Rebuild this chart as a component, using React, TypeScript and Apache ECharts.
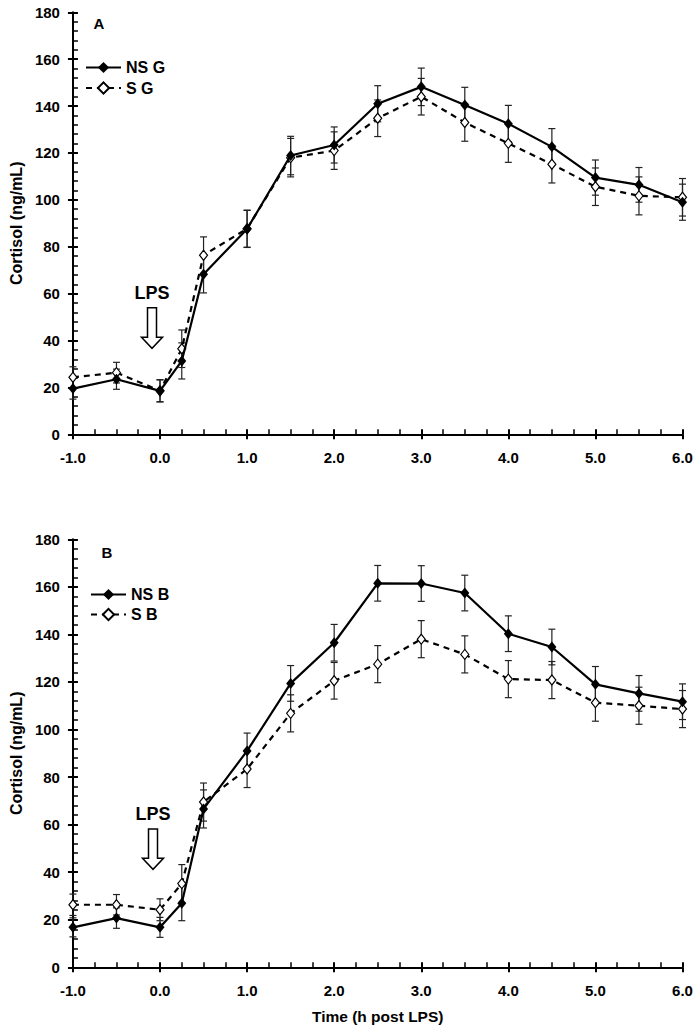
import React, { useEffect, useRef } from "react";
import * as echarts from "echarts";

const xs = [-1, -0.5, 0, 0.25, 0.5, 1, 1.5, 2, 2.5, 3, 3.5, 4, 4.5, 5, 5.5, 6];
const nsG = [19.5, 23.5, 18.5, 31.3, 68.3, 87.6, 118.9, 123.4, 141, 148.2, 140.5, 132.5, 122.6, 109.5, 106.4, 99];
const sG = [24.3, 26.3, 18.6, 36.5, 76.4, 87.7, 118, 121, 134.8, 144, 133, 124.1, 115.2, 105.6, 101.7, 101.1];
const nsB = [16.8, 20.7, 16.8, 26.9, 66.6, 91, 119.4, 136.5, 161.5, 161.4, 157.4, 140.3, 134.7, 119, 115.2, 111.7];
const sB = [26.3, 26.3, 24.2, 35.2, 69.5, 83.4, 106.8, 120.5, 127.5, 138, 131.6, 121.2, 120.8, 111.3, 110, 108.6];

const nsGErr = [4.5, 4.3, 4.7, 7.7, 8, 7.9, 8.2, 7.7, 7.7, 8, 7.5, 7.8, 7.8, 7.5, 7.4, 7.7];
const sGErr = [4.5, 4.4, 4.7, 8, 7.8, 7.9, 8.2, 8, 7.8, 7.8, 8, 8.1, 8, 8, 8.1, 8];
const nsBErr = [4, 4.3, 4.2, 7.3, 8, 7.5, 7.5, 7.7, 7.5, 7.5, 7.5, 7.5, 7.5, 7.5, 7.5, 7.5];
const sBErr = [4.5, 4.3, 4.6, 8, 8, 7.8, 7.8, 7.7, 7.8, 7.8, 7.8, 7.8, 7.8, 7.8, 7.8, 7.8];

const seriesNames = ["NS G", "S G", "NS B", "S B"];
const panelLabels = ["A", "B"];
const yTitle = "Cortisol (ng/mL)";
const xTitle = "Time (h post LPS)";

const FONT = "'Liberation Sans', Arial, sans-serif";

function pairs(vals: number[]) {
  return xs.map((x, i) => [x, vals[i]]);
}
function errs(vals: number[], e: number[]) {
  return xs.map((x, i) => [x, vals[i] - e[i], vals[i] + e[i]]);
}

const errRender = (params: any, api: any) => {
  const x = api.value(0);
  const lo = api.value(1);
  const hi = api.value(2);
  const pHi = api.coord([x, hi]);
  const pLo = api.coord([x, lo]);
  const cap = 3.5;
  const style = { stroke: "#222", lineWidth: 1.2 };
  return {
    type: "group",
    children: [
      { type: "line", shape: { x1: pHi[0], y1: pHi[1], x2: pLo[0], y2: pLo[1] }, style },
      { type: "line", shape: { x1: pHi[0] - cap, y1: pHi[1], x2: pHi[0] + cap, y2: pHi[1] }, style },
      { type: "line", shape: { x1: pLo[0] - cap, y1: pLo[1], x2: pLo[0] + cap, y2: pLo[1] }, style },
    ],
  };
};

function xAxes(grid: number, withName: boolean) {
  const base = {
    gridIndex: grid,
    type: "value",
    min: -1,
    max: 6,
    interval: 1,
    position: "bottom",
    splitLine: { show: false },
  };
  return [
    {
      ...base,
      axisLine: { show: true, onZero: false, lineStyle: { color: "#000", width: 2 } },
      axisTick: { show: true, inside: true, length: 5, lineStyle: { color: "#000", width: 2 } },
      minorTick: { show: true, splitNumber: 4, length: 5, lineStyle: { color: "#000", width: 1.5 } },
      axisLabel: {
        margin: 16,
        formatter: (v: number) => v.toFixed(1),
        fontWeight: "bold",
        fontSize: 15,
        color: "#000",
        fontFamily: FONT,
      },
      name: withName ? xTitle : "",
      nameLocation: "middle",
      nameGap: 41,
      nameTextStyle: { fontWeight: "bold", fontSize: 15.5, color: "#000", fontFamily: FONT },
    },
    {
      ...base,
      axisLine: { show: false, onZero: false },
      axisTick: { show: true, inside: false, length: 5, lineStyle: { color: "#000", width: 2 } },
      axisLabel: { show: false },
    },
  ];
}

function yAxes(grid: number) {
  const base = {
    gridIndex: grid,
    type: "value",
    min: 0,
    max: 180,
    interval: 20,
    position: "left",
    splitLine: { show: false },
  };
  return [
    {
      ...base,
      axisLine: { show: true, onZero: false, lineStyle: { color: "#000", width: 2 } },
      axisTick: { show: true, inside: true, length: 5, lineStyle: { color: "#000", width: 2 } },
      minorTick: { show: true, splitNumber: 5, length: 5, lineStyle: { color: "#000", width: 1.5 } },
      axisLabel: { margin: 13, fontWeight: "bold", fontSize: 15, color: "#000", fontFamily: FONT },
      name: yTitle,
      nameLocation: "middle",
      nameGap: 47,
      nameTextStyle: { fontWeight: "bold", fontSize: 16, color: "#000", fontFamily: FONT },
    },
    {
      ...base,
      axisLine: { show: false, onZero: false },
      axisTick: { show: true, inside: false, length: 5, lineStyle: { color: "#000", width: 2 } },
      axisLabel: { show: false },
    },
  ];
}

function lineSeries(name: string, vals: number[], idx: number, filled: boolean) {
  return {
    name,
    type: "line",
    xAxisIndex: idx,
    yAxisIndex: idx,
    data: pairs(vals),
    symbol: "diamond",
    symbolSize: filled ? [9, 11] : [8, 10],
    showSymbol: true,
    lineStyle: { color: "#000", width: 2.2, type: filled ? "solid" : [6, 5] },
    itemStyle: filled
      ? { color: "#000", borderColor: "#000", borderWidth: 0 }
      : { color: "#fff", borderColor: "#000", borderWidth: 1.2 },
    z: filled ? 4 : 3,
  };
}

function errSeries(vals: number[], e: number[], idx: number) {
  return {
    type: "custom",
    xAxisIndex: idx,
    yAxisIndex: idx,
    renderItem: errRender,
    data: errs(vals, e),
    encode: { x: 0, y: [1, 2] },
    z: 2,
    silent: true,
  };
}

function arrow(cx: number, top: number, headStart: number, tip: number) {
  const sw = 4.5;
  const hw = 10.5;
  return {
    type: "polygon",
    shape: {
      points: [
        [cx - sw, top],
        [cx + sw, top],
        [cx + sw, headStart],
        [cx + hw, headStart],
        [cx, tip],
        [cx - hw, headStart],
        [cx - sw, headStart],
      ],
    },
    style: { fill: "#fff", stroke: "#000", lineWidth: 1.5 },
    z: 10,
  };
}

export default function App() {
  const ref = useRef<HTMLDivElement>(null);
  useEffect(() => {
    if (!ref.current) return;
    const chart = echarts.init(ref.current, undefined, { renderer: "svg" });
    const xa = [...xAxes(0, false), ...xAxes(1, true)];
    const ya = [...yAxes(0), ...yAxes(1)];
    const legendText = { fontWeight: "bold", fontSize: 16, color: "#000", fontFamily: FONT, lineHeight: 19 };
    const option: any = {
      animation: false,
      backgroundColor: "#fff",
      textStyle: { fontFamily: FONT },
      grid: [
        { left: 67.7, right: 16.5, top: 12.3, height: 422 },
        { left: 67.7, right: 16.5, top: 539.3, height: 428 },
      ],
      xAxis: xa,
      yAxis: ya,
      legend: [
        {
          data: [seriesNames[0], seriesNames[1]],
          orient: "vertical",
          left: 85,
          top: 58,
          padding: 0,
          itemWidth: 35,
          itemHeight: 14,
          itemGap: 1.5,
          textStyle: legendText,
          selectedMode: false,
        },
        {
          data: [seriesNames[2], seriesNames[3]],
          orient: "vertical",
          left: 90,
          top: 585,
          padding: 0,
          itemWidth: 35,
          itemHeight: 14,
          itemGap: 1,
          textStyle: legendText,
          selectedMode: false,
        },
      ],
      series: [
        errSeries(nsG, nsGErr, 0),
        errSeries(sG, sGErr, 0),
        lineSeries(seriesNames[0], nsG, 0, true),
        lineSeries(seriesNames[1], sG, 0, false),
        errSeries(nsB, nsBErr, 2),
        errSeries(sB, sBErr, 2),
        lineSeries(seriesNames[2], nsB, 2, true),
        lineSeries(seriesNames[3], sB, 2, false),
      ],
      graphic: [
        {
          type: "text",
          x: 99,
          y: 23,
          style: { text: panelLabels[0], fontSize: 15, fontWeight: "bold", fill: "#000", fontFamily: FONT, align: "center", verticalAlign: "middle" },
        },
        {
          type: "text",
          x: 107,
          y: 552,
          style: { text: panelLabels[1], fontSize: 15, fontWeight: "bold", fill: "#000", fontFamily: FONT, align: "center", verticalAlign: "middle" },
        },
        {
          type: "text",
          x: 152,
          y: 293,
          style: { text: "LPS", fontSize: 18, fontWeight: "bold", fill: "#000", fontFamily: FONT, align: "center", verticalAlign: "middle" },
        },
        {
          type: "text",
          x: 153,
          y: 814,
          style: { text: "LPS", fontSize: 18, fontWeight: "bold", fill: "#000", fontFamily: FONT, align: "center", verticalAlign: "middle" },
        },
        arrow(152, 307.7, 337.3, 348.3),
        arrow(153, 829, 858.3, 869.3),
      ],
    };
    chart.setOption(option);
    return () => chart.dispose();
  }, []);
  return (
    <div
      ref={ref}
      style={{ position: "fixed", left: 0, top: 0, width: 699, height: 1031, background: "#fff" }}
    />
  );
}
